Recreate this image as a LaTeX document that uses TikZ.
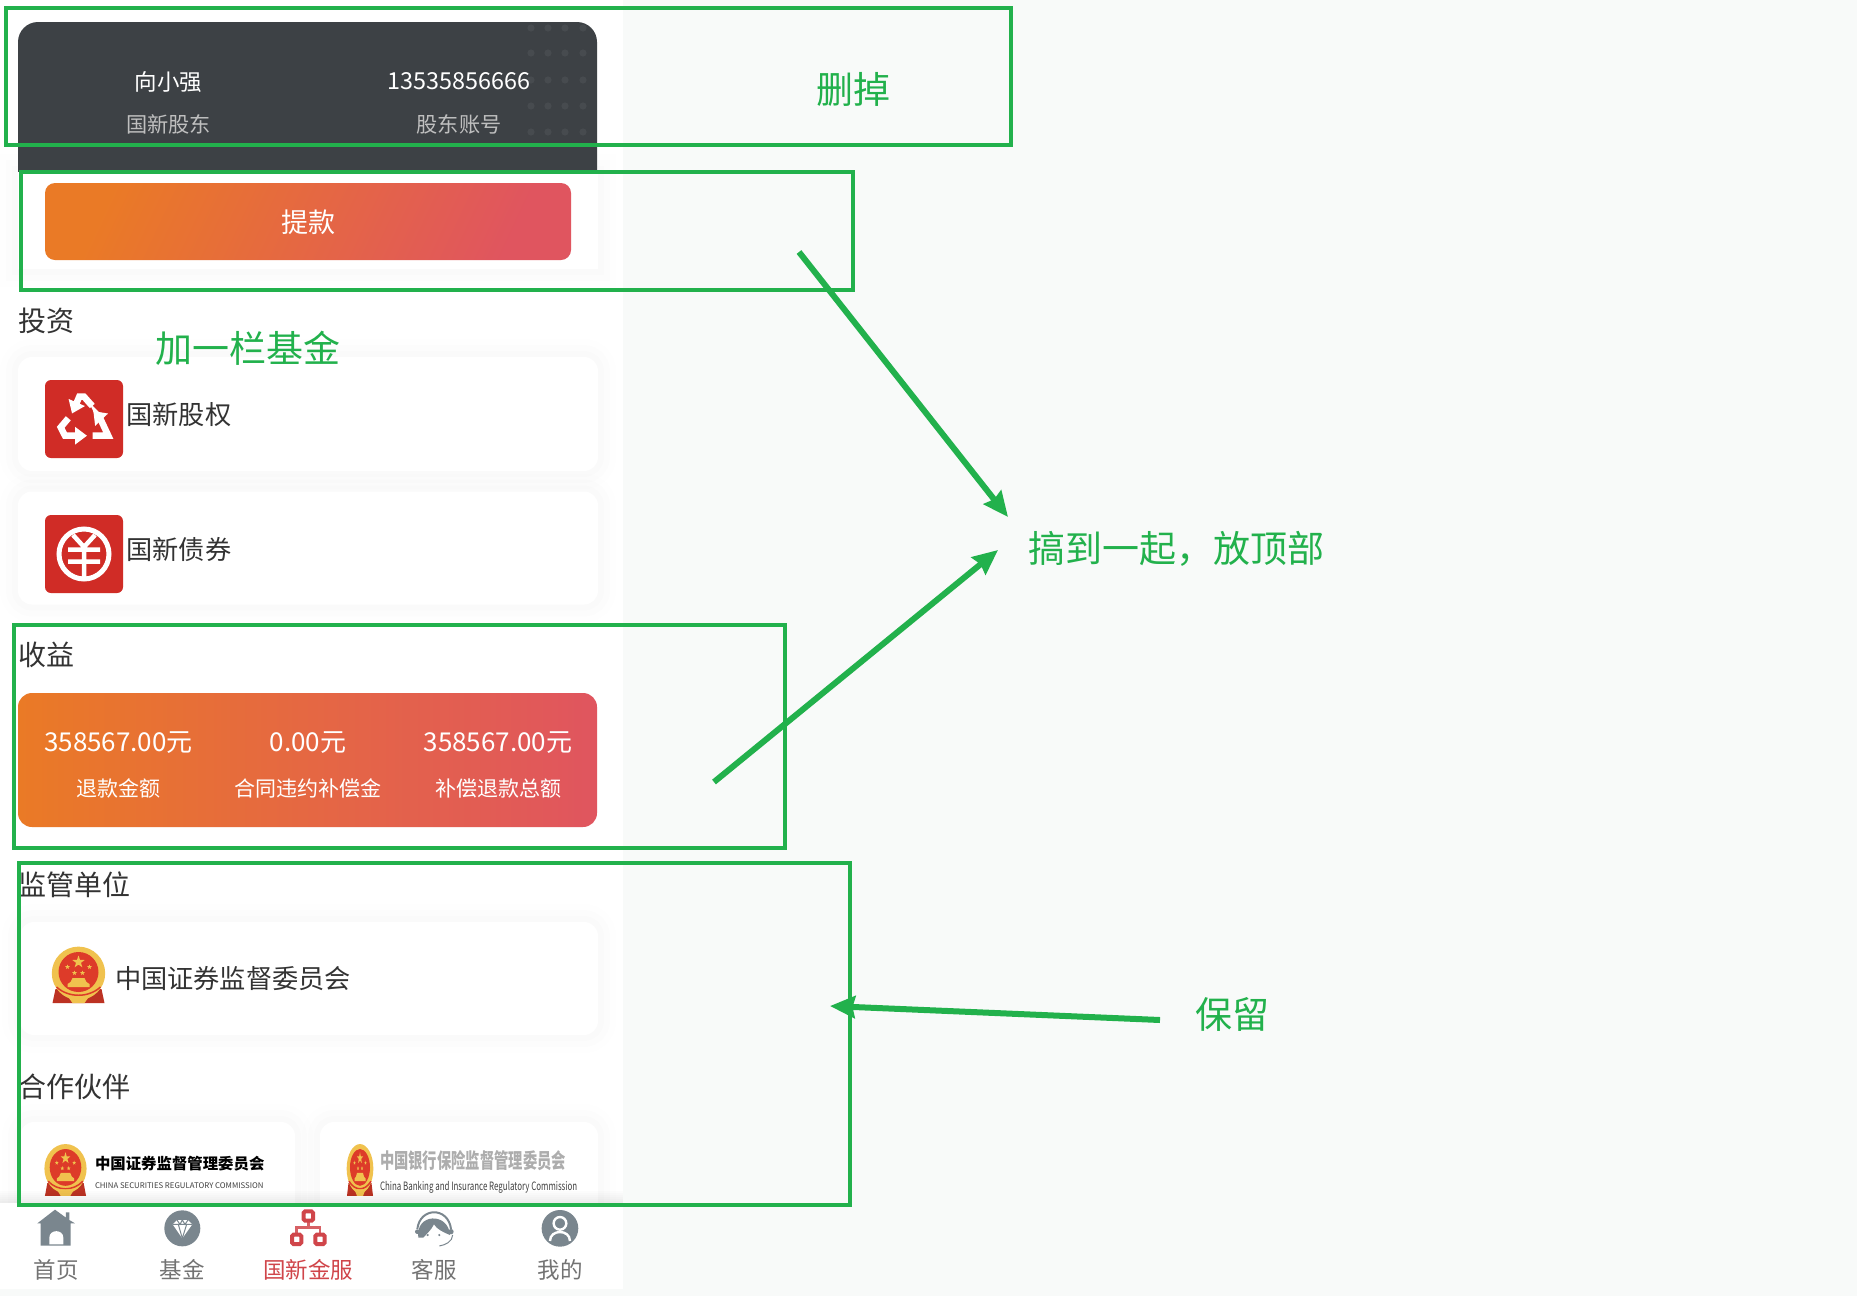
\documentclass[tikz,border=0pt]{standalone}
\usepackage{xcolor}
\usepackage{fontspec}
\setmainfont{Noto Sans CJK SC}
\usetikzlibrary{arrows.meta}
\definecolor{pagebg}{HTML}{F8FAF9}
\definecolor{marker}{HTML}{22B14C}
\definecolor{darkcard}{HTML}{3D4145}
\definecolor{darkdot}{HTML}{474B4F}
\definecolor{gradA}{HTML}{EA7A26}
\definecolor{gradB}{HTML}{E0555F}
\definecolor{iconred}{HTML}{D02C26}
\definecolor{tabgray}{HTML}{7A868E}
\definecolor{tabred}{HTML}{D0454A}
\definecolor{goldc}{HTML}{F0C24E}
\definecolor{emblemred}{HTML}{DD3B29}
\newcommand{\pxfont}[1]{\fontsize{#1}{#1}\selectfont}
\newcommand{\emblemstar}[3]{\fill[goldc,shift={(#1,#2)}] (-90:#3) -- (-54:{.4*#3}) -- (-18:#3) -- (18:{.4*#3}) -- (54:#3) -- (90:{.4*#3}) -- (126:#3) -- (162:{.4*#3}) -- (198:#3) -- (234:{.4*#3}) -- cycle;}
\tikzset{
  every node/.style={inner sep=0pt,outer sep=0pt},
  markbox/.style={draw=marker,line width=4pt,rectangle},
  markarrow/.style={draw=marker,line width=6pt,-{Stealth[length=25pt,width=22pt,inset=2.5pt]}},
  marktext/.style={text=marker,font=\pxfont{37}},
  halo/.style={preaction={draw=black,draw opacity=.005,line width=36pt},
    preaction={draw=black,draw opacity=.006,line width=24pt},
    preaction={draw=black,draw opacity=.007,line width=12pt}},
  card/.style={rectangle,fill=white,rounded corners=14pt,halo},
  headline/.style={anchor=west,text=black!80,font=\pxfont{28}},
  itemtext/.style={anchor=west,text=black!80,font=\pxfont{26.2}},
  tablabel/.style={text=black!55,font=\pxfont{22.5}},
  whitesmall/.style={text=white,font=\pxfont{21}},
  whitebig/.style={text=white,font=\pxfont{26}},
  greylabel/.style={text=black!25,font=\pxfont{21.2}},
  redicon/.style={rectangle,fill=iconred,rounded corners=6pt,minimum width=78pt,minimum height=78pt},
  recycle/.style={white,line width=6.5pt,-{Triangle[length=12pt,width=17pt]}},
  pics/emblem/.style={code={
    \fill[emblemred!85!black] (-23,12) -- (-26,26) -- (26,26) -- (23,12) -- cycle;
    \fill[goldc] (0,-3.7) circle (26.7);
    \fill[emblemred] (0,-5) circle (20);
    \emblemstar{0}{-15}{6.5}
    \emblemstar{-11}{-10}{2.5}
    \emblemstar{11}{-10}{2.5}
    \emblemstar{-4}{-4}{2.5}
    \emblemstar{4}{-4}{2.5}
    \fill[goldc] (-6,1) -- (6,1) -- (8,5) -- (11,7) -- (11,10) -- (-11,10) -- (-11,7) -- (-8,5) -- cycle;
    \draw[emblemred,line width=1.5pt] (-22,10) .. controls (-10,21) and (10,21) .. (22,10);
    \fill[goldc] (-11,19) -- (11,19) -- (6,26) -- (-6,26) -- cycle;
  }}
}
\begin{document}
\begin{tikzpicture}[x=1pt,y=-1pt]
\useasboundingbox (0,0) rectangle (1857,1296);
\fill[pagebg] (0,0) rectangle (1857,1296);
\fill[white] (0,0) rectangle (623,1289);

\draw node[rectangle,fill=darkcard,rounded corners=20pt,minimum width=579pt,minimum height=180pt] at (307.5,112) (head) {};
\foreach \dotx in {531,548,565,583}
  \foreach \doty in {28,53,80,106,132}
    \fill[darkdot] (\dotx,\doty) circle (3.6);
\draw node[text=white,font=\pxfont{22.5}] at (168.5,82.5) (name) {向小强};
\draw node[text=white,font=\pxfont{23.4}] at (459,81) (phone) {13535856666};
\draw node[greylabel] at (168.5,124) (namel) {国新股东};
\draw node[greylabel] at (459,124) (phonel) {股东账号};

\draw node[rectangle,fill=white,minimum width=580pt,minimum height=97pt,halo] at (308,220.5) (btnbg) {};
\draw node[rectangle,fill=darkcard,minimum width=579pt,minimum height=18pt] at (307.5,163) (headfoot) {};
\draw node[rectangle,rounded corners=10pt,left color=gradA,right color=gradB,shading angle=65,minimum width=526pt,minimum height=77pt] at (308,221.5) (btn) {};
\draw node[text=white,font=\pxfont{27}] at (308,222) (btnt) {提款};

\draw node[headline] at (18.5,321) (invest) {投资};

\draw node[card,minimum width=580pt,minimum height=114pt] at (308,414) (eqcard) {};
\draw node[redicon] at (84,419) (eqicon) {};
\draw[recycle] (92.3,406) -- (84,396.7) -- (79.3,396.7) -- (72,413.5);
\draw[recycle] (92.7,435.7) -- (108.3,435.7) -- (100,418) -- (93.3,411);
\draw[recycle] (68.3,418.3) -- (60.7,427.3) -- (65,435.7) -- (87,435.7);
\draw node[itemtext] at (126.5,415) (eqtext) {国新股权};

\draw node[card,minimum width=580pt,minimum height=113pt] at (308,548) (bdcard) {};
\draw node[redicon] at (84,554) (bdicon) {};
\draw[white,line width=5pt] (84,554) circle (25);
\draw[white,line width=4.5pt] (73,535) -- (84,547) -- (95,535) (84,547) -- (84,577) (68,549.5) -- (100,549.5) (68,561.5) -- (100,561.5);
\draw node[itemtext] at (126.5,549) (bdtext) {国新债券};

\draw node[headline] at (18.5,655) (income) {收益};
\draw node[rectangle,rounded corners=14pt,left color=gradA,right color=gradB,minimum width=579pt,minimum height=134pt] at (307.5,760) (incard) {};
\draw node[whitebig] at (118.5,743) (refund) {358567.00元};
\draw node[whitebig] at (308,743) (comp) {0.00元};
\draw node[whitebig] at (498,743) (total) {358567.00元};
\draw node[whitesmall] at (118.5,788.5) (refundl) {退款金额};
\draw node[whitesmall] at (308,788.5) (compl) {合同违约补偿金};
\draw node[whitesmall] at (498,788.5) (totall) {补偿退款总额};

\draw node[headline] at (18.5,885) (super) {监管单位};
\draw node[card,minimum width=578pt,minimum height=113pt] at (309,978.5) (supcard) {};
\pic[scale=1] at (78.5,977) {emblem};
\draw node[itemtext] at (115,978.5) (suptext) {中国证券监督委员会};

\draw node[headline] at (18.5,1087) (partner) {合作伙伴};
\draw node[card,minimum width=275pt,minimum height=110pt] at (157.5,1177) (csrc) {};
\draw node[card,minimum width=278pt,minimum height=110pt] at (459,1177) (cbirc) {};
\pic[xscale=.79,yscale=.92] at (65.5,1172) {emblem};
\pic[xscale=.5,yscale=.92] at (360,1172) {emblem};
\draw node[anchor=west,text=black,font=\pxfont{15.4}\bfseries] at (95,1164) (csrct) {中国证券监督管理委员会};
\draw node[anchor=west,text=black!75,font=\pxfont{7.8}] at (95,1185.5) (csrce) {CHINA SECURITIES REGULATORY COMMISSION};
\draw node[anchor=west,text=black!32,font=\pxfont{14.3}\bfseries] at (380,1161) (cbirct) {\scalebox{1}[1.45]{中国银行保险监督管理委员会}};
\draw node[anchor=west,text=black!75,font=\pxfont{11.5}] at (380,1187) (cbirce) {\scalebox{.69}[1]{China Banking and Insurance Regulatory Commission}};

\foreach \shade in {1,...,6}
  \fill[black,opacity=.012] (0,{1203-2*\shade}) rectangle (623,1203);
\draw node[rectangle,fill=white,minimum width=623pt,minimum height=86pt] at (311.5,1246) (tabbar) {};

\begin{scope}[shift={(30,1205)},scale=.3333]
\fill[tabgray] (22,55) -- (75,14) -- (108,38) -- (108,22) -- (118,22) -- (118,45) -- (135,55) -- (122,55) -- (122,122) -- (32,122) -- (32,55) -- cycle;
\fill[white] (58,118) -- (58,98) .. controls (58,72) and (100,72) .. (100,98) -- (100,118) -- cycle;
\fill[tabgray] (457,70) circle (54);
\fill[white] (428,58) -- (441,45) -- (474,45) -- (487,58) -- (457,100) -- cycle;
\draw[tabgray,line width=1pt] (428,58) -- (487,58) (445,58) -- (457,100) -- (470,58) (441,45) -- (450,58) -- (457,45) -- (465,58) -- (474,45);
\end{scope}
\begin{scope}[shift={(280,1205)},scale=.3333]
\draw[tabred!85!white,line width=2.6pt] (85,50) -- (85,68) (50,85) -- (50,68) -- (120,68) -- (120,85);
\draw[tabred,line width=4pt,rounded corners=1.5pt] (71,19) rectangle (99,47) (36,89) rectangle (64,117) (106,89) rectangle (134,117);
\draw[tabgray,line width=2pt] (412,72) .. controls (420,5) and (505,5) .. (513,72);
\fill[tabgray] (415,98) .. controls (405,25) and (505,20) .. (510,90) .. controls (490,82) and (470,72) .. (462,58) .. controls (452,78) and (438,88) .. (430,98) -- cycle;
\fill[tabgray] (412,80) circle (7) (513,80) circle (8) (443,90) circle (3.5) (478,90) circle (3.5);
\draw[tabgray,line width=1pt] (518,90) .. controls (518,110) and (495,120) .. (478,123);
\fill[tabgray] (840,70) circle (55);
\draw[white,line width=2.4pt] (840,55) circle (19);
\draw[white,line width=2.4pt] (810,108) .. controls (810,72) and (870,72) .. (870,108);
\end{scope}

\draw node[tablabel] at (56,1269.5) (tabhome) {首页};
\draw node[tablabel] at (182,1269.5) (tabfund) {基金};
\draw node[tablabel,text=tabred] at (308,1269.5) (tabfin) {国新金服};
\draw node[tablabel] at (434,1269.5) (tabserv) {客服};
\draw node[tablabel] at (560,1269.5) (tabme) {我的};

\draw node[markbox,minimum width=1005pt,minimum height=137pt] at (508.5,76.5) (delbox) {};
\draw node[markbox,minimum width=832pt,minimum height=118pt] at (437,231) (btnbox) {};
\draw node[markbox,minimum width=771pt,minimum height=223pt] at (399.5,736.5) (incbox) {};
\draw node[markbox,minimum width=831.5pt,minimum height=342pt] at (434.5,1033.5) (keepbox) {};

\draw node[marktext] at (853,89) (deltext) {删掉};
\draw node[marktext] at (248,348) (addtext) {加一栏基金};
\draw node[marktext,anchor=west] at (1028,549) (toptext) {搞到一起，放顶部};
\draw node[marktext] at (1232,1014.5) (keeptext) {保留};

\coordinate (btnfrom) at (799,252);
\coordinate (btnto) at (1008,517);
\coordinate (incfrom) at (714,782);
\coordinate (incto) at (998,550);
\coordinate (keepfrom) at (1160,1020);
\coordinate (keepto) at (830,1006);
\draw[markarrow] (btnfrom) -- (btnto);
\draw[markarrow] (incfrom) -- (incto);
\draw[markarrow] (keepfrom) -- (keepto);

\end{tikzpicture}
\end{document}
